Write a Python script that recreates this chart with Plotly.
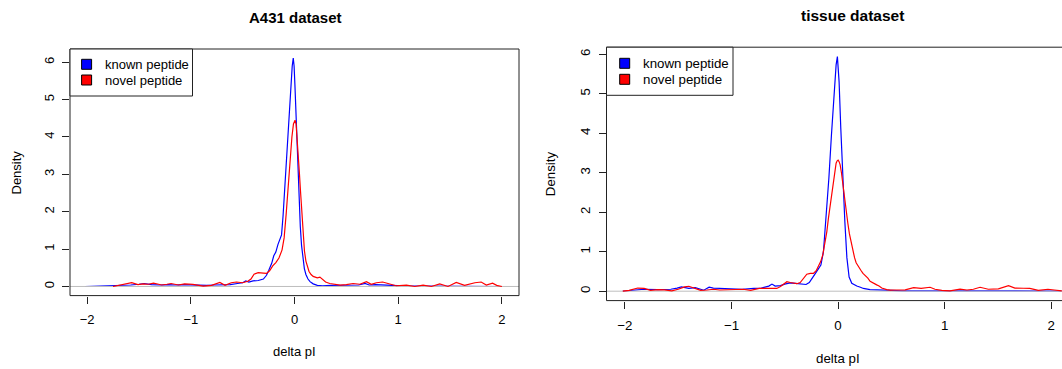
import plotly.graph_objects as go

W, H = 1062, 369
FONT = "Liberation Sans, Arial, Helvetica, sans-serif"

# ---- data: kernel density of delta pI --------------------------------------
series_names = ["known peptide", "novel peptide"]
series_colors = ["#0000FF", "#FF0000"]
x_ticks = [-2, -1, 0, 1, 2]
y_ticks = [0, 1, 2, 3, 4, 5, 6]

a431_known_x = [-2.02, -1.9, -1.8, -1.73, -1.65, -1.58, -1.5, -1.45, -1.38, -1.3, -1.22, -1.15,
                -1.08, -1.0, -0.92, -0.85, -0.77, -0.7, -0.62, -0.55, -0.5, -0.47, -0.44, -0.4,
                -0.35, -0.3, -0.27, -0.25, -0.22, -0.2, -0.18, -0.16, -0.14, -0.125, -0.11,
                -0.095, -0.08, -0.065, -0.05, -0.035, -0.022, -0.012, -0.004, 0.004, 0.012,
                0.022, 0.032, 0.044, 0.056, 0.068, 0.08, 0.095, 0.11, 0.13, 0.15, 0.18, 0.22,
                0.27, 0.35, 0.45, 0.55, 0.62, 0.68, 0.72, 0.78, 0.85, 0.92, 1.0, 1.1, 1.25, 1.4,
                1.55, 1.7, 1.85, 2.0]
a431_known_y = [0.0, 0.01, 0.02, 0.02, 0.03, 0.04, 0.06, 0.08, 0.05, 0.04, 0.05, 0.04,
                0.05, 0.04, 0.03, 0.03, 0.04, 0.04, 0.05, 0.08, 0.1, 0.15, 0.12, 0.15,
                0.16, 0.2, 0.3, 0.42, 0.62, 0.82, 0.92, 1.12, 1.28, 1.38, 1.9,
                2.6, 3.3, 4.1, 4.9, 5.5, 5.9, 6.11, 5.9, 5.4, 4.8,
                3.9, 3.1, 2.3, 1.6, 1.1, 0.75, 0.48, 0.32, 0.2, 0.13, 0.07, 0.03,
                0.02, 0.03, 0.03, 0.03, 0.04, 0.08, 0.04, 0.05, 0.04, 0.03, 0.01, 0.01, 0.01, 0.01,
                0.005, 0.005, 0.005, 0.0]

a431_novel_x = [-1.75, -1.7, -1.67, -1.62, -1.57, -1.51, -1.46, -1.41, -1.36, -1.31, -1.28,
                -1.23, -1.19, -1.12, -1.06, -0.98, -0.92, -0.88, -0.8, -0.76, -0.72, -0.67,
                -0.61, -0.56, -0.5, -0.45, -0.42, -0.39, -0.35, -0.3, -0.27, -0.24, -0.21,
                -0.18, -0.15, -0.12, -0.1, -0.08, -0.06, -0.04, -0.025, -0.01, 0.005, 0.015,
                0.025, 0.035, 0.047, 0.058, 0.07, 0.083, 0.096, 0.11, 0.125, 0.14, 0.16, 0.18,
                0.2, 0.22, 0.245, 0.27, 0.3, 0.34, 0.39, 0.44, 0.5, 0.565, 0.63, 0.694, 0.74,
                0.79, 0.85, 0.9, 0.98, 1.08, 1.16, 1.24, 1.32, 1.4, 1.48, 1.56, 1.64, 1.74,
                1.8, 1.85, 1.91, 1.95, 2.0]
a431_novel_y = [0.0, 0.03, 0.06, 0.08, 0.1, 0.05, 0.07, 0.06, 0.09, 0.06, 0.04,
                0.06, 0.08, 0.04, 0.07, 0.055, 0.03, 0.01, 0.03, 0.06, 0.11, 0.03,
                0.1, 0.12, 0.1, 0.14, 0.2, 0.33, 0.37, 0.36, 0.35, 0.42, 0.55,
                0.64, 0.76, 0.98, 1.3, 1.95, 2.75, 3.5, 4.0, 4.35, 4.45, 4.35,
                4.0, 3.6, 3.05, 2.55, 1.95, 1.35, 0.95, 0.68, 0.5, 0.4, 0.32, 0.27,
                0.25, 0.23, 0.25, 0.18, 0.12, 0.08, 0.05, 0.035, 0.05, 0.08, 0.06, 0.13, 0.06,
                0.1, 0.12, 0.08, 0.02, 0.035, 0.0, 0.035, 0.0, 0.07, 0.0, 0.11, 0.03, 0.1,
                0.12, 0.04, 0.09, 0.03, 0.0]

tissue_known_x = [-2.02, -1.93, -1.82, -1.69, -1.57, -1.51, -1.47, -1.40, -1.34, -1.26, -1.21,
                  -1.17, -1.11, -1.01, -0.9, -0.79, -0.72, -0.65, -0.62, -0.59, -0.54, -0.5,
                  -0.45, -0.4, -0.35, -0.3, -0.27, -0.246, -0.22, -0.2, -0.18, -0.161, -0.137,
                  -0.112, -0.086, -0.062, -0.037, -0.018, -0.006, 0.002, 0.01, 0.026, 0.045,
                  0.064, 0.083, 0.104, 0.129, 0.15, 0.176, 0.21, 0.238, 0.3, 0.36, 0.42, 0.5,
                  0.6, 0.8, 1.0, 1.3, 1.6, 1.9, 2.1]
tissue_known_y = [0.0, 0.02, 0.05, 0.04, 0.05, 0.08, 0.107, 0.07, 0.09, 0.025, 0.1,
                  0.08, 0.07, 0.05, 0.05, 0.07, 0.08, 0.13, 0.18, 0.13, 0.14, 0.18,
                  0.21, 0.2, 0.19, 0.17, 0.22, 0.33, 0.42, 0.5, 0.58, 0.66, 1.0,
                  1.85, 2.86, 3.95, 4.97, 5.73, 5.94, 5.7, 5.3, 4.12, 2.86,
                  1.76, 0.85, 0.36, 0.2, 0.16, 0.13, 0.1, 0.07, 0.04, 0.03, 0.02, 0.02,
                  0.01, 0.01, 0.005, 0.005, 0.005, 0.005, 0.005]

tissue_novel_x = [-2.02, -1.96, -1.88, -1.82, -1.76, -1.69, -1.63, -1.56, -1.5, -1.44, -1.4,
                  -1.35, -1.29, -1.23, -1.17, -1.11, -1.04, -0.98, -0.89, -0.82, -0.74, -0.67,
                  -0.61, -0.575, -0.54, -0.51, -0.48, -0.449, -0.42, -0.387, -0.355, -0.324,
                  -0.293, -0.26, -0.231, -0.205, -0.184, -0.163, -0.143, -0.124, -0.105, -0.09,
                  -0.074, -0.058, -0.043, -0.03, -0.018, -0.008, 0.001, 0.01, 0.02, 0.032,
                  0.045, 0.06, 0.076, 0.092, 0.107, 0.123, 0.139, 0.155, 0.17, 0.19, 0.214,
                  0.234, 0.254, 0.28, 0.301, 0.33, 0.363, 0.385, 0.41, 0.457, 0.49, 0.53, 0.58,
                  0.63, 0.71, 0.78, 0.864, 0.91, 0.974, 1.05, 1.145, 1.21, 1.27, 1.333, 1.41,
                  1.505, 1.6, 1.66, 1.74, 1.8, 1.88, 1.97, 2.03, 2.1]
tissue_novel_y = [0.0, 0.02, 0.08, 0.07, 0.02, 0.04, 0.035, 0.01, 0.05, 0.11, 0.125,
                  0.08, 0.02, 0.03, 0.05, 0.03, 0.04, 0.035, 0.05, 0.02, 0.07, 0.07,
                  0.08, 0.07, 0.12, 0.19, 0.24, 0.22, 0.21, 0.19, 0.22, 0.33,
                  0.43, 0.45, 0.45, 0.52, 0.62, 0.75, 0.92, 1.2, 1.51, 1.85,
                  2.18, 2.5, 2.86, 3.08, 3.24, 3.3, 3.32, 3.28, 3.2, 3.0,
                  2.69, 2.35, 2.01, 1.72, 1.45, 1.25, 1.0, 0.85, 0.72, 0.62, 0.53,
                  0.45, 0.4, 0.33, 0.25, 0.2, 0.16, 0.13, 0.08, 0.04, 0.025, 0.03, 0.03,
                  0.035, 0.09, 0.07, 0.1, 0.05, 0.02, 0.01, 0.05, 0.03, 0.05, 0.1, 0.05,
                  0.06, 0.14, 0.08, 0.075, 0.07, 0.02, 0.05, 0.03, 0.01]

panels = [
    dict(title="A431 dataset", known=(a431_known_x, a431_known_y),
         novel=(a431_novel_x, a431_novel_y)),
    dict(title="tissue dataset", known=(tissue_known_x, tissue_known_y),
         novel=(tissue_novel_x, tissue_novel_y)),
]

# ---- panel geometry (pixels) -------------------------------------------------
geo = [
    dict(left=70, right=519, top=49, bottom=295.6, xr=[-2.165, 2.165], yr=[-0.244, 6.354],
         title_x=295, title_y=17.3, title_size=15, font=13,
         dens_x=16.2, xlab_dy=55.4, key_x=86.6, text_x=103.2, keys_y=[64.3, 80.0],
         leg_right=192.5, leg_bottom=96),
    dict(left=606.5, right=1062, top=47.2, bottom=300.6, xr=[-2.173, 2.102], yr=[-0.238, 6.178],
         title_x=852, title_y=15, title_size=15.5, font=13.3,
         dens_x=551.3, xlab_dy=57.4, key_x=624.7, text_x=641.3, keys_y=[63.3, 79.3],
         leg_right=733, leg_bottom=95.3),
]


def fx(p):
    return p / W


def fy(p):
    return 1 - p / H


fig = go.Figure()
shapes, annotations = [], []

for i, (pan, g) in enumerate(zip(panels, geo)):
    xa = "x" if i == 0 else f"x{i + 1}"
    ya = "y" if i == 0 else f"y{i + 1}"
    # density curves: known first, grey zero line, novel on top
    fig.add_trace(go.Scatter(x=pan["known"][0], y=pan["known"][1], mode="lines",
                             line=dict(color=series_colors[0], width=1.2),
                             xaxis=xa, yaxis=ya, showlegend=False))
    fig.add_trace(go.Scatter(x=g["xr"], y=[0, 0], mode="lines",
                             line=dict(color="#BEBEBE", width=1),
                             xaxis=xa, yaxis=ya, showlegend=False))
    fig.add_trace(go.Scatter(x=pan["novel"][0], y=pan["novel"][1], mode="lines",
                             line=dict(color=series_colors[1], width=1.2),
                             xaxis=xa, yaxis=ya, showlegend=False))

    axis_font = dict(family=FONT, size=g["font"], color="black")
    fig.update_layout(**{
        ("xaxis" if i == 0 else f"xaxis{i + 1}"): dict(
            domain=[fx(g["left"]), fx(g["right"])], range=g["xr"], anchor=ya,
            tickvals=x_ticks, ticks="outside", ticklen=7, tickcolor="#222", tickwidth=1,
            showgrid=False, zeroline=False, showline=False, tickfont=axis_font,
            ticklabelstandoff=5),
        ("yaxis" if i == 0 else f"yaxis{i + 1}"): dict(
            domain=[fy(g["bottom"]), fy(g["top"])], range=g["yr"], anchor=xa,
            tickvals=y_ticks, ticks="outside", ticklen=7, tickcolor="#222", tickwidth=1,
            tickangle=-90, showgrid=False, zeroline=False, showline=False,
            tickfont=axis_font, ticklabelstandoff=3),
    })

    # plot frame
    x1 = 1 if i == 0 else 1.02
    shapes.append(dict(type="rect", xref=f"{xa} domain", yref=f"{ya} domain",
                       x0=0, x1=x1, y0=0, y1=1, line=dict(color="#222", width=1)))

    # titles and axis labels
    annotations.append(dict(text=f"<b>{pan['title']}</b>", xref="paper", yref="paper",
                            x=fx(g["title_x"]), y=fy(g["title_y"]), showarrow=False,
                            xanchor="center", yanchor="middle",
                            font=dict(family=FONT, size=g["title_size"], color="black")))
    annotations.append(dict(text="Density", xref="paper", yref="paper", textangle=-90,
                            x=fx(g["dens_x"]), y=fy((g["top"] + g["bottom"]) / 2),
                            showarrow=False, xanchor="center", yanchor="middle",
                            font=axis_font))
    annotations.append(dict(text="delta pI", xref=xa, yref=f"{ya} domain", x=0, y=0,
                            yshift=-g["xlab_dy"], showarrow=False, xanchor="center",
                            yanchor="middle", font=axis_font))

    # legend box with filled keys
    shapes.append(dict(type="rect", xref="paper", yref="paper",
                       x0=fx(g["left"]), x1=fx(g["leg_right"]),
                       y0=fy(g["leg_bottom"]), y1=fy(g["top"]),
                       line=dict(color="#222", width=1), fillcolor="white"))
    for name, col, ky in zip(series_names, series_colors, g["keys_y"]):
        shapes.append(dict(type="rect", xref="paper", yref="paper",
                           x0=fx(g["key_x"] - 5), x1=fx(g["key_x"] + 5),
                           y0=fy(ky + 5), y1=fy(ky - 5),
                           line=dict(color="black", width=1), fillcolor=col))
        annotations.append(dict(text=name, xref="paper", yref="paper",
                                x=fx(g["text_x"]), y=fy(ky), showarrow=False,
                                xanchor="left", yanchor="middle", font=axis_font))

fig.update_layout(width=W, height=H, margin=dict(l=0, r=0, t=0, b=0),
                  paper_bgcolor="white", plot_bgcolor="white",
                  shapes=shapes, annotations=annotations, showlegend=False)

fig.write_html("out.html")
